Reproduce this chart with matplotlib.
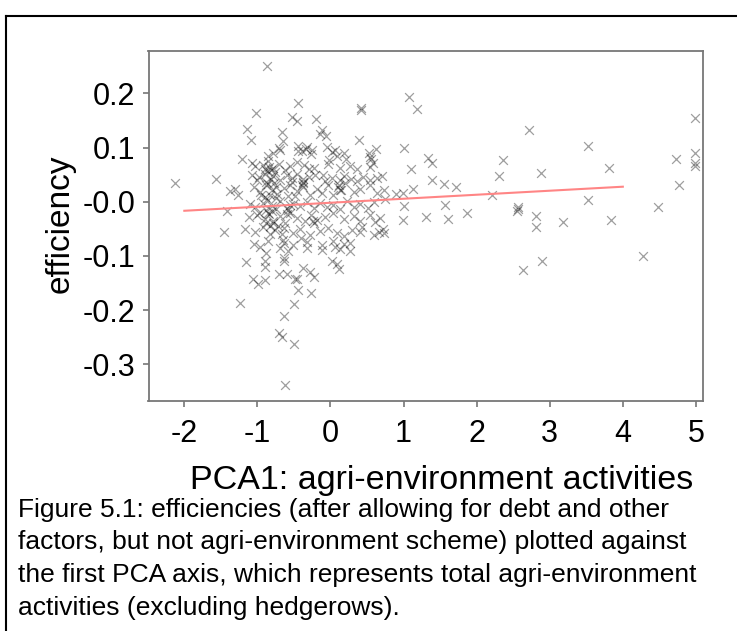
import matplotlib
matplotlib.use("Agg")
import matplotlib.pyplot as plt
from matplotlib.lines import Line2D

plt.rcParams['font.family'] = ['Liberation Sans', 'DejaVu Sans']

# ---- data ----
# sparse / outlying points
pca1_sparse = [-2.13, -1.57, -0.87, -1.24, -1.46, -1.42, -1.21, -1.02, -1.14, -1.09,
               -1.16, -1.06, -0.99, -0.89, -0.89, -0.90, -0.88, -0.70, -0.66, -0.64,
               -0.50, -0.50, -0.44, -0.46, -0.49, -0.71, -0.60, -0.64, -0.64, -0.37,
               -0.23, -0.28, -0.26, -0.32, -0.12, 0.02, 0.09, 0.12, 0.06, -0.45,
               -0.53, -0.46, -0.66, -0.65, -0.69, -0.20, -0.12, -0.06, -0.14, 0.42,
               0.42, 0.39, -0.32, -0.25, -0.45, 0.06, -0.02, 0.21, 0.54, 0.62,
               0.58, 1.00, 1.07, 1.19, 1.34, 1.39, 1.10, 1.39, 1.13, 0.99,
               1.01, 0.99, 1.30, 0.89, 0.70, 0.74, 0.66, 0.72, 0.41, 0.29,
               0.27, 1.55, 1.72, 1.57, 1.61, 1.87, 2.21, 2.31, 2.36, 2.72,
               2.88, 2.56, 2.57, 2.55, 2.81, 2.81, 3.18, 2.63, 2.90, 3.52,
               3.52, 3.81, 3.84, 4.27, 4.48, 4.73, 4.77, 4.99, 4.99, 4.99,
               4.99, -0.62]
eff_sparse = [0.034, 0.041, 0.250, -0.186, -0.055, -0.018, 0.078, 0.164, 0.134, 0.113,
              -0.112, -0.142, -0.152, -0.145, -0.120, -0.110, -0.094, -0.242, -0.250, -0.210,
              -0.263, -0.189, -0.162, -0.142, -0.142, -0.133, -0.133, -0.109, -0.103, -0.123,
              -0.138, -0.129, -0.169, -0.086, -0.089, -0.109, -0.114, -0.125, -0.083, 0.183,
              0.157, 0.148, 0.129, 0.112, 0.095, 0.153, 0.132, 0.121, 0.125, 0.172,
              0.169, 0.113, 0.101, 0.096, 0.094, 0.095, 0.077, 0.078, 0.083, 0.097,
              0.071, 0.100, 0.194, 0.171, 0.080, 0.071, 0.060, 0.040, 0.023, 0.017,
              -0.008, -0.034, -0.028, 0.014, 0.047, 0.005, -0.055, -0.050, -0.055, -0.052,
              -0.077, 0.033, 0.027, -0.006, -0.032, -0.021, 0.012, 0.048, 0.077, 0.132,
              0.053, -0.009, -0.014, -0.017, -0.026, -0.046, -0.037, -0.126, -0.109, 0.102,
              0.003, 0.063, -0.034, -0.100, -0.009, 0.079, 0.031, 0.155, 0.089, 0.071,
              0.065, -0.338]

# dense cluster around PCA1 in [-1.4, 0.75]
pca1_cluster = [
    -0.85, -0.78, -0.71, -0.44, -0.39, -0.33, -0.26, -0.05, 0.02, 0.09, 0.18, 0.53, 0.55,
    -1.07, -1.03, -0.92, -0.85, -0.78, -0.70, -0.55, -0.46, -0.36, -0.23, -0.03, 0.13, 0.27, 0.36, 0.54,
    -1.07, -0.98, -0.89, -0.82, -0.78, -0.69, -0.60, -0.53, -0.46, -0.37, -0.29, -0.21, -0.07, 0.02,
    0.13, 0.19, 0.28, 0.36, 0.45, 0.54, 0.63,
    -1.37, -1.30, -1.26, -1.05, -0.96, -0.88, -0.80, -0.73, -0.64, -0.58, -0.46, -0.37, -0.28, -0.19,
    -0.12, -0.03, 0.04, 0.13, 0.20, 0.32, 0.41, 0.54, 0.63, 0.73,
    -1.10, -1.03, -0.92, -0.80, -0.69, -0.60, -0.51, -0.42, -0.32, -0.23, -0.14, -0.05, 0.04, 0.13,
    0.22, 0.32, 0.41, 0.52, 0.59,
    -1.12, -1.01, -0.89, -0.85, -0.78, -0.69, -0.60, -0.46, -0.35, -0.26, -0.19, -0.07, 0.04, 0.18,
    0.32, 0.41, 0.54, 0.61, 0.68,
    -1.17, -1.03, -0.92, -0.83, -0.76, -0.64, -0.51, -0.42, -0.28, -0.14, -0.03, 0.09, 0.18, 0.43,
    0.59, 0.73,
    -1.05, -0.96, -0.85, -0.69, -0.64, -0.58, -0.51, -0.32, -0.12, 0.04, 0.13, 0.18, 0.27,
    -0.90, -0.87, -0.84, -0.81, -0.76, -0.88, -0.85, -0.77, -0.74, -0.90, -0.86, -0.83, -0.75,
    -0.88, -0.84, -0.80, -0.74, -0.88, -0.83, -0.79, -0.72, -0.55, -0.52, -0.49, -0.56, -0.58,
    -0.56, -0.38, -0.37, -0.39, 0.10, 0.12, 0.14, -0.24, -0.22, -0.62, -0.66, -0.95, -0.98,
    -1.00, -0.62, -0.30, -0.10, -0.65, -0.40,
]
eff_cluster = [
    0.085, 0.090, 0.100, 0.102, 0.094, 0.098, 0.088, 0.101, 0.092, 0.084, 0.090, 0.089, 0.078,
    0.072, 0.066, 0.068, 0.075, 0.062, 0.070, 0.066, 0.074, 0.068, 0.063, 0.070, 0.062, 0.066, 0.060, 0.064,
    0.050, 0.045, 0.052, 0.042, 0.048, 0.040, 0.050, 0.044, 0.052, 0.041, 0.045, 0.050, 0.038, 0.043,
    0.040, 0.047, 0.042, 0.038, 0.046, 0.040, 0.044,
    0.020, 0.024, 0.012, 0.028, 0.018, 0.030, 0.022, 0.014, 0.026, 0.010, 0.020, 0.028, 0.012, 0.024,
    0.016, 0.030, 0.012, 0.022, 0.034, 0.018, 0.024, 0.030, 0.016, 0.022,
    -0.004, -0.010, -0.002, -0.008, 0.002, -0.012, -0.004, -0.008, 0.000, -0.012, -0.002, -0.010, -0.006, -0.014,
    0.002, -0.010, -0.004, -0.012, 0.000,
    -0.028, -0.024, -0.032, -0.020, -0.036, -0.026, -0.022, -0.030, -0.036, -0.024, -0.034, -0.028, -0.020, -0.032,
    -0.026, -0.036, -0.024, -0.038, -0.030,
    -0.050, -0.056, -0.046, -0.060, -0.052, -0.048, -0.058, -0.050, -0.062, -0.054, -0.048, -0.058, -0.064, -0.046,
    -0.062, -0.058,
    -0.078, -0.084, -0.072, -0.086, -0.076, -0.090, -0.080, -0.074, -0.080, -0.072, -0.088, -0.078, -0.090,
    0.060, 0.056, 0.064, 0.058, 0.055, 0.036, 0.032, 0.034, 0.028, 0.008, 0.004, 0.012, 0.006,
    -0.016, -0.022, -0.018, -0.014, -0.040, -0.044, -0.040, -0.044, 0.030, 0.036, 0.010, -0.006, -0.016,
    -0.020, 0.034, 0.037, 0.030, 0.027, 0.030, 0.022, -0.036, -0.040, -0.040, -0.060, 0.012, -0.020,
    0.040, 0.058, 0.060, 0.050, -0.070, -0.066,
]

pca1 = pca1_sparse + pca1_cluster
efficiency = eff_sparse + eff_cluster

# fitted line end points
fit_x = [-2.0, 4.0]
fit_y = [-0.0167, 0.0277]

x_ticks = [-2, -1, 0, 1, 2, 3, 4, 5]
x_tick_labels = ["-2", "-1", "0", "1", "2", "3", "4", "5"]
y_ticks = [-0.3, -0.2, -0.1, 0.0, 0.1, 0.2]
y_tick_labels = ["-0.3", "-0.2", "-0.1", "-0.0", "0.1", "0.2"]

x_label = "PCA1: agri-environment activities"
y_label = "efficiency"
caption_lines = [
    "Figure 5.1: efficiencies (after allowing for debt and other",
    "factors, but not agri-environment scheme) plotted against",
    "the first PCA axis, which represents total agri-environment",
    "activities (excluding hedgerows).",
]

# ---- figure ----
W, H = 737, 631
fig = plt.figure(figsize=(W / 100, H / 100), dpi=100)
fig.patch.set_facecolor("white")

ax = fig.add_axes([148.5 / W, 1 - 400.7 / H, (702.5 - 148.5) / W, (400.7 - 51) / H])
ax.scatter(pca1, efficiency, marker="x", s=40, c="black", alpha=0.38, linewidths=0.9, zorder=2)
ax.plot(fit_x, fit_y, color="#ff8585", lw=1.5, zorder=3)

ax.set_xlim(-2.49, 5.09)
ax.set_ylim(-0.367, 0.278)
ax.set_xticks(x_ticks)
ax.set_xticklabels(x_tick_labels)
ax.set_yticks(y_ticks)
ax.set_yticklabels(y_tick_labels)
for s in ax.spines.values():
    s.set_color("#777777")
    s.set_linewidth(1.3)
ax.tick_params(axis="both", direction="out", length=4.5, width=1.2, color="#777777",
               labelsize=22, labelcolor="black")
ax.tick_params(axis="x", pad=9)
ax.tick_params(axis="y", pad=5)

fig.text(60 / W, 1 - 224 / H, y_label, rotation=90, ha="center", va="center", fontsize=24)
fig.text(442 / W, 1 - 489 / H, x_label, ha="center", va="baseline", fontsize=24.5)

for i, line in enumerate(caption_lines):
    fig.text(18 / W, 1 - (517 + 32.5 * i) / H, line, ha="left", va="baseline", fontsize=19)

# outer frame (right and bottom edges cropped)
fig.add_artist(Line2D([6 / W, 6 / W], [0, 1 - 16 / H], color="black", lw=1.5, transform=fig.transFigure))
fig.add_artist(Line2D([6 / W, 1], [1 - 16 / H, 1 - 16 / H], color="black", lw=1.5, transform=fig.transFigure))

fig.savefig("out.png", dpi=100)
